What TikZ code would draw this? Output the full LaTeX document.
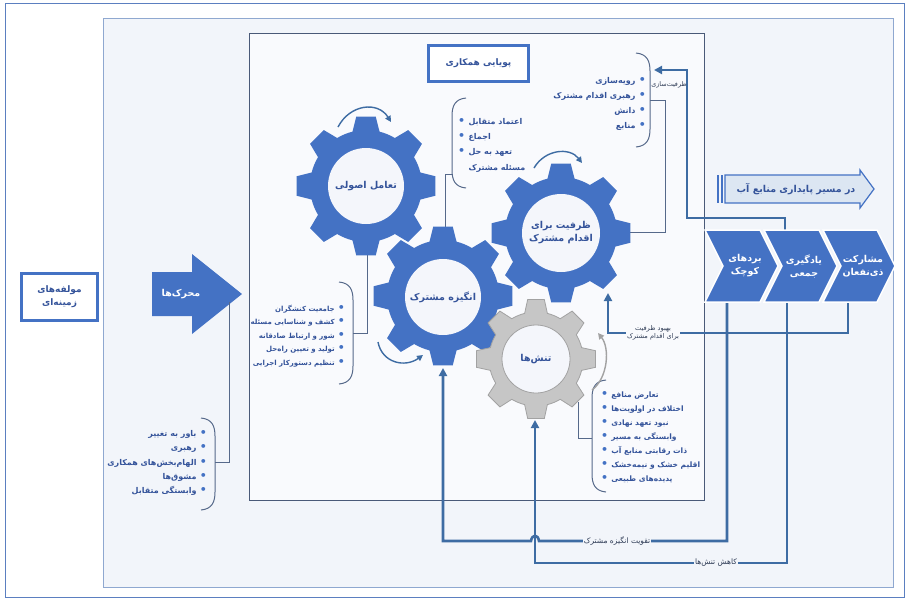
\documentclass[tikz,border=0pt]{standalone}
\usepackage{fontspec}
\usetikzlibrary{arrows.meta,calc}
\TeXXeTstate=1
\newfontfamily\arabicfont[Script=Arabic]{DejaVu Sans}
\newcommand{\fa}[1]{{\arabicfont\beginR #1\endR}}
\definecolor{gblue}{HTML}{4472C4}
\definecolor{lblue}{HTML}{3E6CA3}
\definecolor{tblue}{HTML}{34539A}
\definecolor{thinc}{HTML}{56698A}
\definecolor{outerc}{HTML}{5B7FC0}
\definecolor{innerc}{HTML}{8FA8D0}
\definecolor{innerbg}{HTML}{F2F5FA}
\definecolor{midbg}{HTML}{F9FAFD}
\definecolor{midc}{HTML}{4A5A78}
\definecolor{holec}{HTML}{F4F6FB}
\definecolor{grayf}{HTML}{C6C6C6}
\definecolor{grayd}{HTML}{A2A2A2}
\definecolor{labc}{HTML}{2E3B55}
\definecolor{lightarr}{HTML}{DCE6F2}
\newcommand{\bul}{{\color{gblue}\arabicfont\fontsize{11}{10}\selectfont •}}
\newcommand{\gearshape}[5]{%
  \begin{scope}[shift={(#1,#2)}]
  \path[#5] (-18:#4) \foreach \k in {0,...,7}{
     -- ({\k*45-14}:#4) -- ({\k*45-8}:#3) -- ({\k*45+8}:#3) -- ({\k*45+14}:#4)
     -- ({\k*45+18}:#4) -- ({\k*45+22.5}:#4) -- ({\k*45+27}:#4) } -- cycle;
  \end{scope}}
\newcommand{\lbrk}[3]{\draw[brk] (#1+14,#2) .. controls (#1+3,#2+1) and (#1,#2+8) .. (#1,#2+18) -- (#1,#3-18) .. controls (#1,#3-8) and (#1+3,#3-1) .. (#1+14,#3);}
\newcommand{\rbrk}[3]{\draw[brk] (#1-14,#2) .. controls (#1-3,#2+1) and (#1,#2+8) .. (#1,#2+18) -- (#1,#3-18) .. controls (#1,#3-8) and (#1-3,#3-1) .. (#1-14,#3);}
\begin{document}
\begin{tikzpicture}[x=1pt,y=-1pt,
  feed/.style={draw=lblue,line width=2.6pt},
  tip/.style={-{Triangle[length=8pt,width=8pt]}},
  thinl/.style={draw=thinc,line width=0.8pt},
  brk/.style={draw=thinc,line width=1pt},
  curv/.style={draw=lblue,line width=1.4pt,-{Triangle[length=6pt,width=6pt]}},
  curvg/.style={draw=grayd,line width=1.4pt,-{Triangle[length=6pt,width=6pt]}},
  lst/.style={inner sep=0pt,text=tblue,font=\fontsize{8}{#1}\selectfont\bfseries},
  hole/.style={circle,fill=holec,inner sep=0pt,minimum size=#1,text=tblue,font=\fontsize{9.5}{13}\selectfont\bfseries,align=center},
  gearb/.style={fill=gblue},
  gearg/.style={fill=grayf,draw=grayd,line width=0.8pt},
  chev/.style={fill=gblue,draw=white,line width=1.5pt},
  chevt/.style={text=white,font=\fontsize{9.5}{13}\selectfont\bfseries,align=center,inner sep=0pt},
  ttlbox/.style={draw=gblue,line width=3pt,fill=white,text=tblue,font=\fontsize{9}{13}\selectfont\bfseries,align=center},
  flab/.style={text=labc,font=\fontsize{7.5}{9}\selectfont,inner sep=1pt,align=center}
]
\useasboundingbox (0,0) rectangle (909,598);
\fill[white] (0,0) rectangle (909,598);
\draw[outerc,line width=0.8pt] (5,3) rectangle (904,597);
\draw[innerc,fill=innerbg,line width=0.8pt] (103,18) rectangle (893,587);
\draw[midc,fill=midbg,line width=0.7pt] (249,33) rectangle (704,500);

% context box and drivers arrow
\node[ttlbox,minimum width=76pt,minimum height=47pt] (ctx) at (59.5,297) {\fa{مولفه^^^^200cهای}\\\fa{زمینه^^^^200cای}};
\fill[gblue] (152,272) -- (192,272) -- (192,254) -- (242,294) -- (192,334) -- (192,316) -- (152,316) -- cycle;
\node[text=white,font=\fontsize{9.5}{12}\selectfont\bfseries] (drv) at (181,294) {\fa{محرک^^^^200cها}};
\coordinate (drvb) at (229,302);

% title box
\node[ttlbox,minimum width=100pt,minimum height=36pt] (ttl) at (478.5,63.5) {\fa{پویایی همکاری}};

% lists
\node[lst=15.3,anchor=west,align=left] (L1) at (458,145) {\bul\ \fa{اعتماد متقابل}\\\bul\ \fa{اجماع}\\\bul\ \fa{تعهد به حل}\\\phantom{\bul\ }\fa{مسئله مشترک}};
\lbrk{452}{98}{188}
\node[lst=15,anchor=east,align=right] (L2) at (646,103.5) {\fa{رویه^^^^200cسازی}\ \bul\\\fa{رهبری اقدام مشترک}\ \bul\\\fa{دانش}\ \bul\\\fa{منابع}\ \bul};
\rbrk{650}{53}{147}
\node[lst=13.6,anchor=east,align=right,font=\fontsize{7}{13.6}\selectfont\bfseries] (L3) at (345,336) {\fa{جامعیت کنشگران}\ \bul\\\fa{کشف و شناسایی مسئله}\ \bul\\\fa{شور و ارتباط صادقانه}\ \bul\\\fa{تولید و تعیین راه^^^^200cحل}\ \bul\\\fa{تنظیم دستورکار اجرایی}\ \bul};
\rbrk{353}{282}{384}
\node[lst=14.3,anchor=east,align=right] (L4) at (207,463) {\fa{باور به تغییر}\ \bul\\\fa{رهبری}\ \bul\\\fa{الهام^^^^200cبخش^^^^200cهای همکاری}\ \bul\\\fa{مشوق^^^^200cها}\ \bul\\\fa{وابستگی متقابل}\ \bul};
\rbrk{215}{418}{510}
\node[lst=14,anchor=west,align=left,font=\fontsize{7.5}{14}\selectfont\bfseries] (L5) at (601,437) {\bul\ \fa{تعارض منافع}\\\bul\ \fa{اختلاف در اولویت^^^^200cها}\\\bul\ \fa{نبود تعهد نهادی}\\\bul\ \fa{وابستگی به مسیر}\\\bul\ \fa{ذات رقابتی منابع آب}\\\bul\ \fa{اقلیم خشک و نیمه^^^^200cخشک}\\\bul\ \fa{پدیده^^^^200cهای طبیعی}};
\lbrk{592}{380}{492}

% thin connectors from lists
\draw[thinl] (452,174) -- (445,174) -- (445,238);
\draw[thinl] (650,100) -- (665,100) -- (665,232) -- (626,232);
\draw[thinl] (353,333) -- (367,333) -- (367,245);
\draw[thinl] (215,462) -- (229,462) -- (drvb);
\draw[thinl] (592,438) -- (578,438) -- (578,402);

% sustainability arrow
\fill[gblue] (717,175) rectangle (719,203);
\fill[gblue] (721,175) rectangle (723,203);
\draw[gblue,fill=lightarr,line width=1.2pt] (725,175) -- (860,175) -- (860,170) -- (874,189) -- (860,208) -- (860,203) -- (725,203) -- cycle;
\node[text=tblue,font=\fontsize{9.5}{12}\selectfont\bfseries] (sus) at (796,189) {\fa{در مسیر پایداری منابع آب}};

% chevron anchor coordinates
\coordinate (c1b) at (727,302);
\coordinate (c2b) at (787,302);
\coordinate (c3b) at (848,302);
\coordinate (c2t) at (785,230);

% thick feedback connectors
\draw[feed,tip] (c2t) -- (785,218) -- (687,218) -- (687,70) -- (654,70);
\node[flab,font=\fontsize{6.4}{7}\selectfont] (capb) at (669,85) {\fa{ظرفیت^^^^200cسازی}};
\draw[feed,tip] (c1b) -- (727,541) -- (539,541) .. controls (538,534) and (532,534) .. (531,541) -- (443,541) -- (443,368);
\node[flab,fill=innerbg] (lab1) at (617,541) {\fa{تقویت انگیزه مشترک}};
\draw[feed,tip] (c2b) -- (787,563) -- (535,563) -- (535,420);
\node[flab,fill=innerbg] (lab2) at (716,563) {\fa{کاهش تنش^^^^200cها}};
\draw[feed,tip] (c3b) -- (848,333) -- (608,333) -- (608,293);
\node[flab,fill=midbg,font=\fontsize{6.6}{8}\selectfont] (lab3) at (653,333) {\fa{بهبود ظرفیت}\\\fa{برای اقدام مشترک}};

% chevrons
\draw[chev] (705,230) -- (760,230) -- (778,266) -- (760,302) -- (705,302) -- (723,266) -- cycle;
\draw[chev] (764,230) -- (819,230) -- (837,266) -- (819,302) -- (764,302) -- (782,266) -- cycle;
\draw[chev] (823,230) -- (877,230) -- (895,266) -- (877,302) -- (823,302) -- (841,266) -- cycle;
\node[chevt] (ch1) at (745,266) {\fa{بردهای}\\\fa{کوچک}};
\node[chevt] (ch2) at (804,266) {\fa{یادگیری}\\\fa{جمعی}};
\node[chevt] (ch3) at (863,266) {\fa{مشارکت}\\\fa{ذی^^^^200cنفعان}};

% gears
\gearshape{366}{186}{70}{56}{gearb}
\node[hole=76pt] (g1) at (366,186) {\fa{تعامل اصولی}};
\gearshape{561}{233}{70}{56}{gearb}
\node[hole=78pt] (g3) at (561,233) {\fa{ظرفیت برای}\\\fa{اقدام مشترک}};
\gearshape{443}{296}{70}{56}{gearb}
\node[hole=76pt] (g2) at (443,297) {\fa{انگیزه مشترک}};
\gearshape{536}{359}{60}{47}{gearg}
\node[hole=68pt,draw=grayd,line width=0.8pt] (g4) at (536,359) {\fa{تنش^^^^200cها}};

% rotation arrows
\draw[curv] (338,127) .. controls (350,104) and (378,101) .. (391,122);
\draw[curv] (534,168) .. controls (545,149) and (570,147) .. (582,163);
\draw[curv] (378,342) .. controls (382,363) and (405,368) .. (423,355);
\draw[curvg] (592,390) .. controls (608,378) and (610,348) .. (598,333);
\end{tikzpicture}
\end{document}
